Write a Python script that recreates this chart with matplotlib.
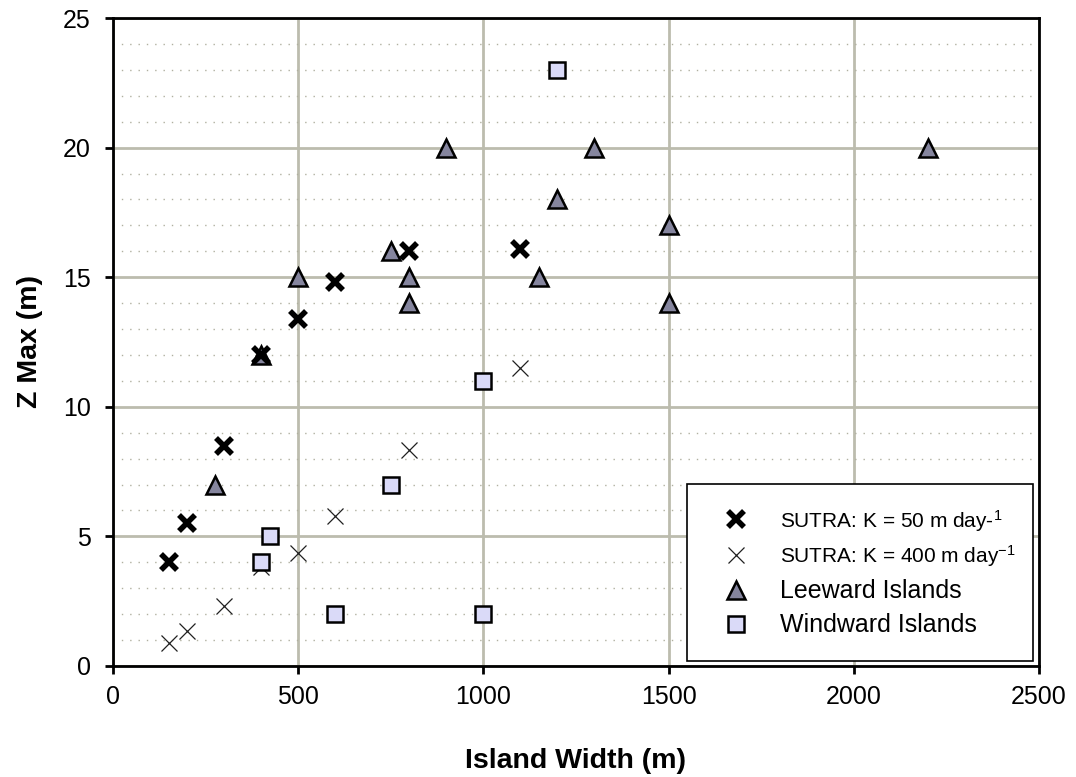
import numpy as np
import matplotlib.pyplot as plt
from matplotlib.ticker import MultipleLocator

plt.rcParams['font.family'] = ['Liberation Sans', 'DejaVu Sans']
plt.rcParams['mathtext.fontset'] = 'custom'
plt.rcParams['mathtext.rm'] = 'Liberation Sans'
plt.rcParams['mathtext.it'] = 'Liberation Sans'

# SUTRA model runs
sutra_width = [150, 200, 300, 400, 500, 600, 800, 1100]
sutra_k50 = [4.0, 5.5, 8.5, 12.0, 13.4, 14.8, 16.0, 16.1]
sutra_k400 = [0.9, 1.35, 2.3, 3.8, 4.35, 5.8, 8.35, 11.5]

# field observations
leeward_width = [275, 400, 500, 750, 800, 800, 900, 1150, 1200, 1300, 1500, 1500, 2200]
leeward_z = [7, 12, 15, 16, 15, 14, 20, 15, 18, 20, 17, 14, 20]
windward_width = [400, 425, 600, 750, 1000, 1000, 1200]
windward_z = [4, 5, 2, 7, 2, 11, 23]

fig = plt.figure(figsize=(10.76, 7.77), dpi=100)
ax = fig.add_axes([0.105, 0.1429, 0.8605, 0.8339])

grid_col = '#bcbcae'
ax.set_xlim(0, 2500)
ax.set_ylim(0, 25)
ax.xaxis.set_major_locator(MultipleLocator(500))
ax.yaxis.set_major_locator(MultipleLocator(5))
ax.yaxis.set_minor_locator(MultipleLocator(1))
ax.grid(True, which='major', color=grid_col, linewidth=2, zorder=0)
ax.grid(True, which='minor', axis='y', color='#b0b0a0', linewidth=1,
        linestyle=(0, (1, 5)), zorder=0)
ax.set_axisbelow(True)

ax.plot(sutra_width, sutra_k50, 'x', color='black', markersize=11,
        markeredgewidth=4, label='SUTRA: K = 50 m day-$^{1}$', zorder=4)
ax.plot(sutra_width, sutra_k400, 'x', color='#202020', markersize=12,
        markeredgewidth=0.9, label='SUTRA: K = 400 m day$^{-1}$', zorder=3)
ax.plot(leeward_width, leeward_z, '^', markerfacecolor='#85859e',
        markeredgecolor='black', markersize=13.5, markeredgewidth=1.8,
        linestyle='none', label='Leeward Islands', zorder=3)
ax.plot(windward_width, windward_z, 's', markerfacecolor='#dadaf8',
        markeredgecolor='black', markersize=12, markeredgewidth=1.8,
        linestyle='none', label='Windward Islands', zorder=5)

for s in ax.spines.values():
    s.set_linewidth(2)
    s.set_color('black')
ax.tick_params(which='major', length=6, width=2, labelsize=18, pad=10)
ax.tick_params(which='minor', length=0)
ax.tick_params(axis='x', pad=8)

ax.set_xlabel('Island Width (m)', fontsize=20.5, fontweight='bold', labelpad=28)
ax.set_ylabel('Z Max (m)', fontsize=20.5, fontweight='bold', labelpad=14)

leg = ax.legend(loc='lower left', bbox_to_anchor=(0.62, 0.0077, 0.3735, 0.2731),
                mode='expand', fancybox=False, framealpha=1, edgecolor='black',
                borderpad=0.94, labelspacing=0.4, handletextpad=0.74,
                handlelength=2.04, borderaxespad=0, fontsize=18)
leg.get_frame().set_linewidth(1.2)
for t in leg.get_texts()[:2]:
    t.set_fontsize(15)

fig.savefig('out.png', dpi=100)
